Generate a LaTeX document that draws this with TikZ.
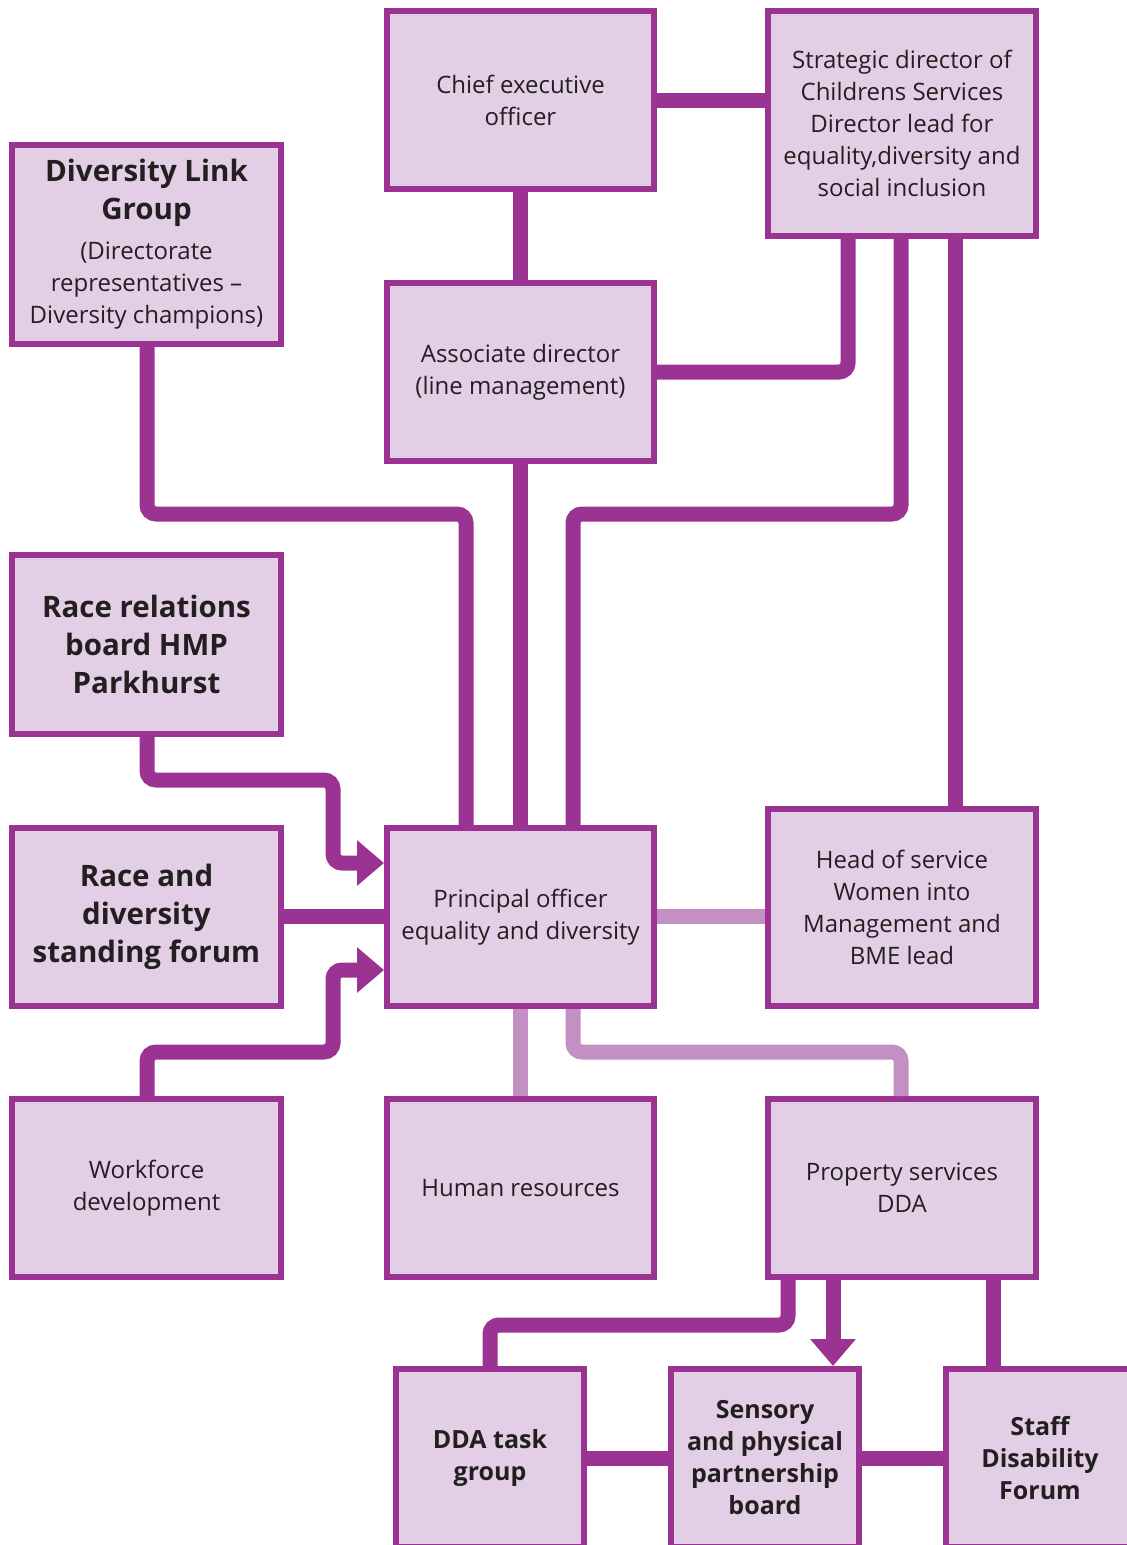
\documentclass[tikz,border=0pt]{standalone}
\usepackage{fontspec}
\setmainfont{Open Sans}
\usetikzlibrary{arrows.meta}
\definecolor{pborder}{HTML}{9B3393}
\definecolor{pfill}{HTML}{E2CEE5}
\definecolor{plight}{HTML}{C48FC2}
\definecolor{ptext}{HTML}{231F20}
\newcommand\regf{\fontsize{24}{32}\selectfont}
\newcommand\bigf{\fontsize{29.5}{38}\selectfont\bfseries}
\newcommand\condf{\fontsize{25}{32}\selectfont\bfseries}
\begin{document}
\begin{tikzpicture}[x=1pt,y=-1pt,
  box/.style={draw=pborder, fill=pfill, line width=6pt, text=ptext, align=center, inner sep=0pt, font=\regf},
  conn/.style={pborder, line width=15pt, rounded corners=9pt},
  lconn/.style={conn, plight},
  bigarrow/.style={-{Triangle[length=27pt,width=44pt]}}]
\useasboundingbox (0,0) rectangle (1127,1545);
\clip (0,0) rectangle (1127,1545);
% boxes
\node[box, minimum width=267pt, minimum height=178pt] (ceo) at (520.5,100) {Chief executive\\officer};
\node[box, minimum width=268pt, minimum height=225pt] (strat) at (902,123.5) {Strategic director of\\Childrens Services\\Director lead for\\equality,diversity and\\social inclusion};
\node[box, minimum width=269pt, minimum height=199pt] (dlg) at (146.5,244.5) {{\bigf Diversity Link}\\[6pt]{\bigf Group}\\[8pt](Directorate\\representatives --\\Diversity champions)};
\node[box, minimum width=267pt, minimum height=178pt] (assoc) at (520.5,372) {Associate director\\(line management)};
\node[box, minimum width=269pt, minimum height=179pt, font=\bigf] (rr) at (146.5,644.5) {Race relations\\board HMP\\Parkhurst};
\node[box, minimum width=269pt, minimum height=178pt, font=\bigf] (rdf) at (146.5,917) {Race and\\diversity\\standing forum};
\node[box, minimum width=267pt, minimum height=178pt] (princ) at (520.5,917) {Principal officer\\equality and diversity};
\node[box, minimum width=268pt, minimum height=197pt] (head) at (902,907.5) {Head of service\\Women into\\Management and\\BME lead};
\node[box, minimum width=269pt, minimum height=178pt] (wf) at (146.5,1188) {Workforce\\development};
\node[box, minimum width=267pt, minimum height=178pt] (hr) at (520.5,1188) {Human resources};
\node[box, minimum width=268pt, minimum height=178pt] (prop) at (902,1188) {Property services\\DDA};
\node[box, minimum width=188pt, minimum height=178pt, font=\condf] (dda) at (490,1458) {DDA task\\group};
\node[box, minimum width=188pt, minimum height=178pt, font=\condf] (sens) at (765,1458) {Sensory\\and physical\\partnership\\board};
\node[box, minimum width=188pt, minimum height=178pt, font=\condf] (staff) at (1040,1458) {Staff\\Disability\\Forum};
% connectors
\draw[conn] (ceo.east) -- (strat.west |- ceo.east);
\draw[conn] (ceo.south) -- (assoc.north);
\draw[conn] (848,0 |- strat.south) -- (848,372) -- (assoc.east);
\draw[conn] (901,0 |- strat.south) -- (901,514) -- (573,514) -- (573,0 |- princ.north);
\draw[conn] (955,0 |- strat.south) -- (955,0 |- head.north);
\draw[conn] (assoc.south) -- (princ.north);
\draw[conn] (147,0 |- dlg.south) -- (147,514) -- (466,514) -- (466,0 |- princ.north);
\draw[conn, bigarrow] (147,0 |- rr.south) -- (147,780) -- (333,780) -- (333,863) -- (princ.west |- 0,863);
\draw[conn] (rdf.east |- 0,916) -- (princ.west |- 0,916);
\draw[conn, bigarrow] (147,0 |- wf.north) -- (147,1052) -- (333,1052) -- (333,970) -- (princ.west |- 0,970);
\draw[lconn] (princ.east |- 0,916) -- (head.west |- 0,916);
\draw[lconn] (princ.south) -- (hr.north);
\draw[lconn] (573,0 |- princ.south) -- (573,1052) -- (901,1052) -- (901,0 |- prop.north);
\draw[conn] (788,0 |- prop.south) -- (788,1325) -- (490,1325) -- (dda.north);
\draw[conn, bigarrow] (833,0 |- prop.south) -- (833,0 |- sens.north);
\draw[conn] (993,0 |- prop.south) -- (993,0 |- staff.north);
\draw[conn] (dda.east) -- (sens.west);
\draw[conn] (sens.east) -- (staff.west);
\end{tikzpicture}
\end{document}
